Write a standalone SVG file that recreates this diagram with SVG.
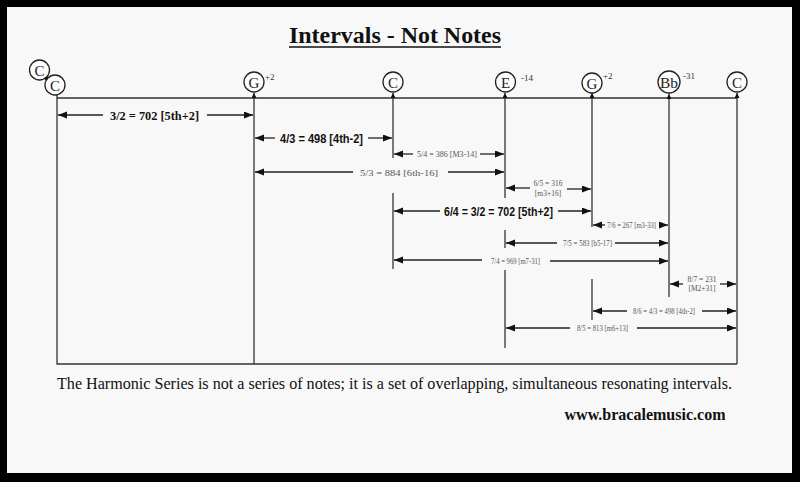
<svg xmlns="http://www.w3.org/2000/svg" width="800" height="482" viewBox="0 0 800 482">
<style>
.ln{stroke:#333;stroke-width:1.3;fill:none}
.ar{stroke:#222;stroke-width:1.3;fill:none;marker-end:url(#ah)}
.vt{stroke:#333;stroke-width:1.3;fill:none;marker-end:url(#up)}
.nc{fill:#fdfdfd;stroke:#222;stroke-width:1.3}
.nt{font-family:"Liberation Serif","Times New Roman",serif;font-size:15px;fill:#222;text-anchor:middle}
.sup{font-family:"Liberation Serif","Times New Roman",serif;font-size:9px;fill:#333}
.bs{font-family:"Liberation Sans",Arial,sans-serif;font-weight:bold;font-size:13px;fill:#111;text-anchor:middle}
.bt{font-family:"Liberation Serif","Times New Roman",serif;font-weight:bold;font-size:13px;fill:#111;text-anchor:middle}
.sm{font-family:"Liberation Serif","Times New Roman",serif;font-size:7.5px;fill:#555;text-anchor:middle}
</style>
<defs>
<marker id="ah" markerUnits="userSpaceOnUse" markerWidth="10" markerHeight="8" refX="9" refY="3.5" orient="auto"><path d="M0,0 L9,3.5 L0,7 z" fill="#111"/></marker>
<marker id="up" markerUnits="userSpaceOnUse" markerWidth="6" markerHeight="6" refX="5" refY="2.5" orient="auto"><path d="M0,0 L5,2.5 L0,5 z" fill="#111"/></marker>
</defs>
<rect x="0" y="0" width="800" height="482" fill="#000"/>
<rect x="7" y="7" width="785" height="466" fill="#f8f8f8"/>
<g id="title">
<text x="395" y="43" font-family="Liberation Serif,'Times New Roman',serif" font-weight="bold" font-size="24" fill="#111" text-anchor="middle" textLength="212" lengthAdjust="spacingAndGlyphs">Intervals - Not Notes</text>
<line x1="289" y1="47" x2="501" y2="47" stroke="#111" stroke-width="1.5"/>
</g>
<g id="connectors">
<path class="ln" d="M57 98 H737"/>
<path class="ln" d="M57 95 V364 H737"/>
<path class="vt" d="M254 364 V93"/>
<path class="vt" d="M393 158 V93"/>
<path class="ln" d="M393 193 V269"/>
<path class="vt" d="M505 198 V93"/>
<path class="ln" d="M505 230 V248"/>
<path class="ln" d="M505 270 V348"/>
<path class="vt" d="M592 227 V93"/>
<path class="ln" d="M592 279 V320"/>
<path class="vt" d="M669 297 V94"/>
<path class="vt" d="M737 364 V93"/>
<path d="M44 73 L50 79 L45 80 Z" fill="#111"/>
<path d="M41 71 L48 78" stroke="#111" stroke-width="1.5"/>
<path class="ar" d="M103 115 H58"/><path class="ar" d="M207 115 H253"/>
<path class="ar" d="M275 138 H255"/><path class="ar" d="M368 138 H392"/>
<path class="ar" d="M413 154 H394"/><path class="ar" d="M480 154 H504"/>
<path class="ar" d="M353 172 H255"/><path class="ar" d="M448 172 H504"/>
<path class="ar" d="M530 188 H506"/><path class="ar" d="M567 189 H591"/>
<path class="ar" d="M440 211 H394"/><path class="ar" d="M558 211 H591"/>
<path class="ar" d="M605 225 H593"/><path class="ar" d="M659 225 H668"/>
<path class="ar" d="M557 243 H506"/><path class="ar" d="M615 243 H668"/>
<path class="ar" d="M482 260 H394"/><path class="ar" d="M550 261 H668"/>
<path class="ar" d="M683 284 H670"/><path class="ar" d="M720 284 H736"/>
<path class="ar" d="M627 311 H593"/><path class="ar" d="M702 311 H736"/>
<path class="ar" d="M570 328 H506"/><path class="ar" d="M637 328 H736"/>
</g>
<g id="node-c0"><circle class="nc" cx="39.5" cy="70" r="10"/><text class="nt" x="39.5" y="75.5">C</text></g>
<g id="node-c1"><circle class="nc" cx="55" cy="85" r="10"/><text class="nt" x="55" y="90.5">C</text></g>
<g id="node-g3"><circle class="nc" cx="254" cy="82" r="10"/><text class="nt" x="254" y="87.5">G</text><text class="sup" x="265" y="80">+2</text></g>
<g id="node-c4"><circle class="nc" cx="393" cy="82" r="10"/><text class="nt" x="393" y="87.5">C</text></g>
<g id="node-e5"><circle class="nc" cx="505.5" cy="82" r="10"/><text class="nt" x="505.5" y="87.5">E</text><text class="sup" x="521" y="81">-14</text></g>
<g id="node-g6"><circle class="nc" cx="592" cy="83" r="10"/><text class="nt" x="592" y="88.5">G</text><text class="sup" x="603" y="79">+2</text></g>
<g id="node-bb7"><circle class="nc" cx="669" cy="82" r="11"/><text class="nt" x="669" y="87.5" font-size="13" textLength="18" lengthAdjust="spacingAndGlyphs">Bb</text><text class="sup" x="683" y="79">-31</text></g>
<g id="node-c8"><circle class="nc" cx="737" cy="82" r="10"/><text class="nt" x="737" y="87.5">C</text></g>
<g id="labels">
<text class="bt" x="154.5" y="120" textLength="89" lengthAdjust="spacingAndGlyphs">3/2 = 702 [5th+2]</text>
<text class="bs" x="321.5" y="142.5" textLength="83" lengthAdjust="spacingAndGlyphs">4/3 = 498 [4th-2]</text>
<text class="sm" x="447" y="157" font-size="8" textLength="60" lengthAdjust="spacingAndGlyphs">5/4 = 386 [M3-14]</text>
<text class="sm" x="399" y="175.5" font-size="10.5" textLength="78" lengthAdjust="spacingAndGlyphs">5/3 = 884 [6th-16]</text>
<text class="sm" x="548" y="186" font-size="8">6/5 = 316</text>
<text class="sm" x="548" y="196" font-size="8">[m3+16]</text>
<text class="bs" x="498.5" y="215.5" textLength="109" lengthAdjust="spacingAndGlyphs">6/4 = 3/2 = 702 [5th+2]</text>
<text class="sm" x="631.5" y="227.5" textLength="49" lengthAdjust="spacingAndGlyphs">7/6 = 267 [m3-33]</text>
<text class="sm" x="587.5" y="245.5" textLength="49" lengthAdjust="spacingAndGlyphs">7/5 = 583 [b5-17]</text>
<text class="sm" x="515.5" y="263.5" textLength="49" lengthAdjust="spacingAndGlyphs">7/4 = 969 [m7-31]</text>
<text class="sm" x="702" y="282">8/7 = 231</text>
<text class="sm" x="702" y="291">[M2+31]</text>
<text class="sm" x="664" y="313.5" textLength="62" lengthAdjust="spacingAndGlyphs">8/6 = 4/3 = 498 [4th-2]</text>
<text class="sm" x="602.5" y="331" textLength="51" lengthAdjust="spacingAndGlyphs">8/5 = 813 [m6+13]</text>
</g>
<g id="footer">
<text x="57" y="389" font-family="Liberation Serif,'Times New Roman',serif" font-size="16" fill="#111" textLength="675" lengthAdjust="spacingAndGlyphs">The Harmonic Series is not a series of notes; it is a set of overlapping, simultaneous resonating intervals.</text>
<text x="645" y="420" font-family="Liberation Serif,'Times New Roman',serif" font-weight="bold" font-size="16" fill="#111" text-anchor="middle" textLength="161" lengthAdjust="spacingAndGlyphs">www.bracalemusic.com</text>
</g>
</svg>
